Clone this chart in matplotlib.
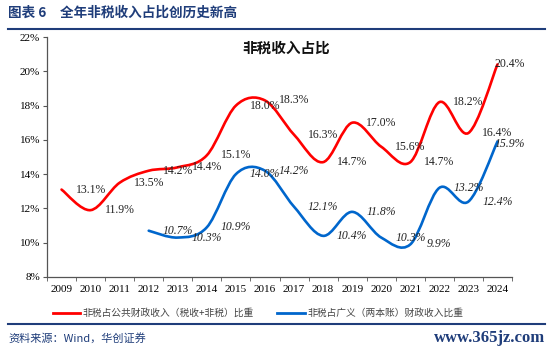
import numpy as np
import matplotlib.pyplot as plt
from matplotlib.path import Path
from matplotlib.patches import PathPatch
from matplotlib.lines import Line2D

plt.rcParams['font.family'] = ['Noto Sans CJK SC', 'DejaVu Sans']

years = [str(y) for y in range(2009, 2025)]
public_share = [13.1, 11.9, 13.5, 14.2, 14.4, 15.1, 18.0, 18.3, 16.3, 14.7, 17.0, 15.6, 14.7, 18.2, 16.4, 20.4]
broad_years = [str(y) for y in range(2012, 2025)]
broad_share = [10.7, 10.3, 10.9, 14.0, 14.2, 12.1, 10.4, 11.8, 10.3, 9.9, 13.2, 12.4, 15.9]

red = '#FF0000'
blue = '#0066CC'
navy = '#1F3D7A'
serif = ['Liberation Serif', 'DejaVu Serif']


def smooth_path(x, y):
    # Bezier segments through the points (Excel-like smoothed line)
    pts = np.column_stack([x, y]).astype(float)
    verts = [pts[0]]
    codes = [Path.MOVETO]
    n = len(pts)
    for i in range(n - 1):
        p0 = pts[max(i - 1, 0)]
        p1 = pts[i]
        p2 = pts[i + 1]
        p3 = pts[min(i + 2, n - 1)]
        c1 = p1 + (p2 - p0) / 6
        c2 = p2 - (p3 - p1) / 6
        verts += [c1, c2, p2]
        codes += [Path.CURVE4] * 3
    return Path(verts, codes)


fig = plt.figure(figsize=(5.5, 3.51), dpi=100)
ax = fig.add_axes([47 / 550, 1 - 277 / 351, 465 / 550, 240 / 351])

x_pub = np.array([years.index(y) for y in years])
x_brd = np.array([years.index(y) for y in broad_years])

ax.add_patch(PathPatch(smooth_path(x_pub, public_share), fill=False, edgecolor=red, lw=1.9, capstyle='round'))
ax.add_patch(PathPatch(smooth_path(x_brd, broad_share), fill=False, edgecolor=blue, lw=1.9, capstyle='round'))

# data labels (shifted right by one category, as in the source)
for i, v in zip(x_pub, public_share):
    dx = 1.0 if i < len(years) - 1 else 0.42
    ax.text(i + dx, v, f'{v:.1f}%', ha='center', va='center', fontsize=8.5, family=serif, color='#222222')
for i, v in zip(x_brd, broad_share):
    dx = 1.0 if i < len(years) - 1 else 0.42
    dy = -0.15 if i == len(years) - 1 else 0
    ax.text(i + dx, v + dy, f'{v:.1f}%', ha='center', va='center', fontsize=8.5, family=serif,
            style='italic', color='#222222')

ax.set_xlim(-0.5, len(years) - 0.5)
ax.set_ylim(8, 22)
ax.set_yticks(np.arange(8, 23, 2))
ax.set_yticklabels([f'{t}%' for t in range(8, 23, 2)], fontsize=8, family=serif)
ax.set_xticks(np.arange(len(years)))
ax.set_xticklabels(years, fontsize=8, family=serif)
ax.set_xticks(np.arange(-0.5, len(years), 1), minor=True)
ax.tick_params(axis='x', which='major', length=0, pad=6)
ax.tick_params(axis='x', which='minor', length=3, direction='out', color='#555555')
ax.tick_params(axis='y', length=3, color='#555555', pad=2)
for s in ['top', 'right']:
    ax.spines[s].set_visible(False)
for s in ['left', 'bottom']:
    ax.spines[s].set_color('#555555')
    ax.spines[s].set_linewidth(0.9)

ax.text(0.515, 0.955, '非税收入占比', transform=ax.transAxes, ha='center', va='center',
        fontsize=10.5, fontweight='bold', color='#111111')

# header and footer
fig.text(8 / 550, 1 - 13 / 351, '图表 6　全年非税收入占比创历史新高', ha='left', va='center',
         fontsize=9.8, fontweight='bold', color=navy)
fig.add_artist(Line2D([8 / 550, 545 / 550], [1 - 29 / 351] * 2, color=navy, lw=1.5))
fig.add_artist(Line2D([8 / 550, 545 / 550], [1 - 324 / 351] * 2, color=navy, lw=1.5))

handles = [Line2D([], [], color=red, lw=2), Line2D([], [], color=blue, lw=2)]
fig.legend(handles, ['非税占公共财政收入（税收+非税）比重', '非税占广义（两本账）财政收入比重'],
           loc='center', bbox_to_anchor=(258 / 550, 1 - 313 / 351), ncol=2, frameon=False,
           fontsize=7, handlelength=2.8, handletextpad=0.3, columnspacing=2.4,
           labelcolor='#444444')

fig.text(8 / 550, 1 - 338 / 351, '资料来源：Wind，华创证券', ha='left', va='center',
         fontsize=8, style='italic', color=navy)
fig.text(545 / 550, 1 - 338 / 351, 'www.365jz.com', ha='right', va='center',
         fontsize=12, family=serif, fontweight='bold', color=navy)

fig.savefig('out.png', dpi=100)
